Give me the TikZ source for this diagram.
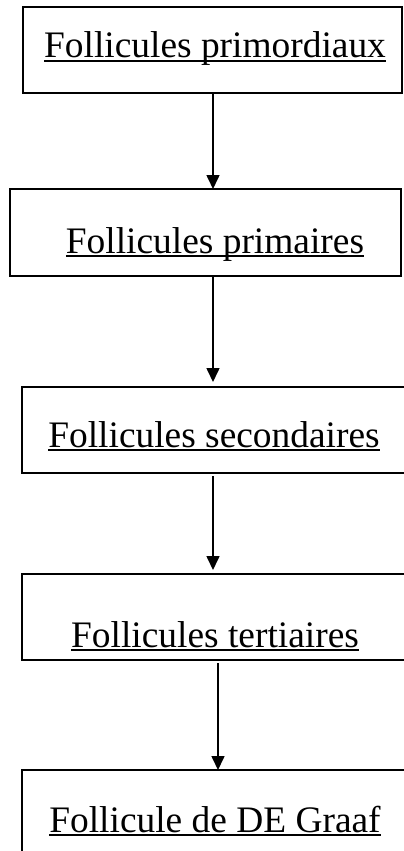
\documentclass[tikz,border=0pt]{standalone}
\usepackage{fontspec}
\setmainfont{Liberation Serif}
\usetikzlibrary{arrows.meta}
\newcommand\ulw[1]{\setbox0\hbox{#1}\rlap{\rule[-4pt]{\wd0}{1.8pt}}\box0}
\begin{document}
\begin{tikzpicture}[x=1pt,y=-1pt,
  box/.style={draw,line width=1.6pt,rectangle,inner sep=0pt,outer sep=0pt,anchor=north west},
  lbl/.style={anchor=base,inner sep=0pt,font=\fontsize{37.4}{40}\selectfont},
  arr/.style={line width=1.6pt,-{Triangle[width=13pt,length=14pt]}}]
\useasboundingbox (0,0) rectangle (404,851);
\clip (0,0) rectangle (404,851);
\node[box,minimum width=379pt,minimum height=86pt] (b1) at (23,7) {};
\node[box,minimum width=391pt,minimum height=87pt] (b2) at (10,189) {};
\node[box,minimum width=400pt,minimum height=86pt] (b3) at (22,387) {};
\node[box,minimum width=400pt,minimum height=86pt] (b4) at (22,574) {};
\node[box,minimum width=400pt,minimum height=120pt] (b5) at (22,770) {};
\node[lbl] (t1) at (215,58) {\ulw{Follicules primordiaux}};
\node[lbl] (t2) at (215,253) {\ulw{Follicules primaires}};
\node[lbl] (t3) at (214,447) {\ulw{Follicules secondaires}};
\node[lbl] (t4) at (215,647) {\ulw{Follicules tertiaires}};
\node[lbl] (t5) at (215,832) {\ulw{Follicule de DE Graaf}};
\coordinate (c1) at (213,0);
\coordinate (c4) at (218,0);
\draw[arr] (b1.south -| c1) -- (b2.north -| c1);
\draw[arr,shorten >=5pt] (b2.south -| c1) -- (b3.north -| c1);
\draw[arr,shorten <=3pt,shorten >=4pt] (b3.south -| c1) -- (b4.north -| c1);
\draw[arr,shorten <=3pt] (b4.south -| c4) -- (b5.north -| c4);
\end{tikzpicture}
\end{document}
